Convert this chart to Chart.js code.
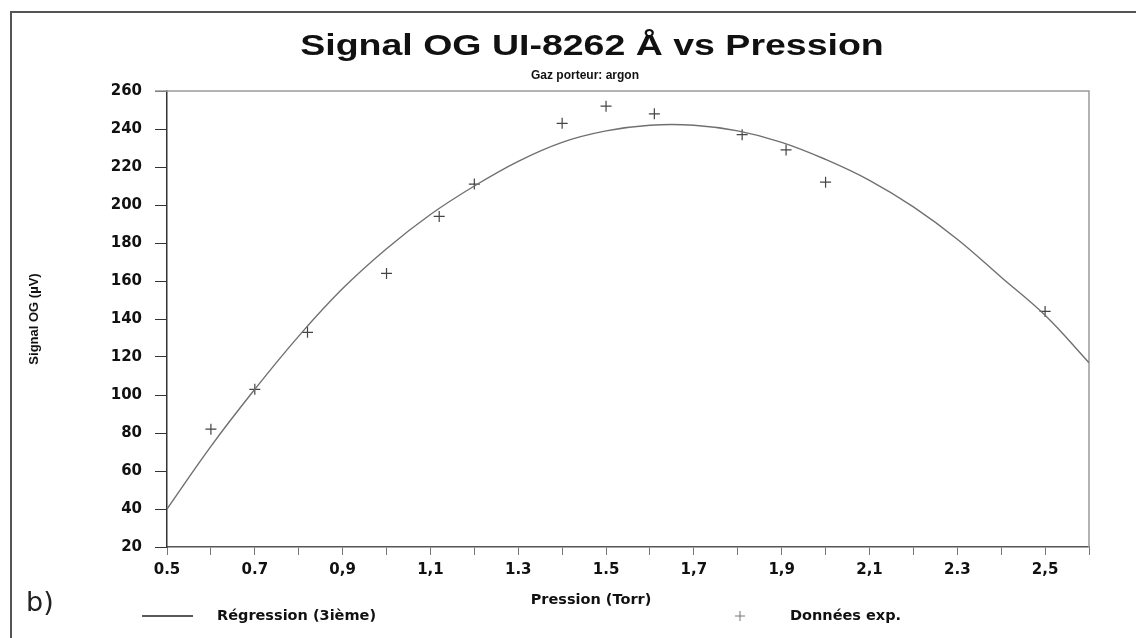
<!DOCTYPE html>
<html>
<head>
<meta charset="utf-8">
<title>Signal OG vs Pression</title>
<script src="https://cdn.jsdelivr.net/npm/chart.js@4.4.1/dist/chart.umd.min.js"></script>
<style>
  html, body { margin: 0; padding: 0; background: #fff; }
  #wrap { position: relative; width: 1136px; height: 638px; overflow: hidden; }
  #frame { position: absolute; left: 10px; top: 11px; width: 1200px; height: 700px;
           border-left: 2px solid #555; border-top: 2px solid #555; }
  canvas { position: absolute; left: 0; top: 0; }
</style>
</head>
<body>
<div id="wrap">
  <div id="frame"></div>
  <canvas id="ogChart" width="1136" height="638"></canvas>
</div>
<script>
// courbe de régression (3e ordre), lue tous les 0.1 Torr
const pressionFit = [0.5, 0.6, 0.7, 0.8, 0.9, 1.0, 1.1, 1.2, 1.3, 1.4, 1.5,
                     1.6, 1.7, 1.8, 1.9, 2.0, 2.1, 2.2, 2.3, 2.4, 2.5, 2.6];
const signalFit = [40, 73, 103, 131, 156, 177, 195, 210, 223, 233, 239,
                   242, 242, 239, 233, 224, 213, 199, 182, 162, 142, 117];

// points expérimentaux
const pressionExp = [0.6, 0.7, 0.82, 1.0, 1.12, 1.2, 1.4, 1.5, 1.61, 1.81, 1.91, 2.0, 2.5];
const signalExp = [82, 103, 133, 164, 194, 211, 243, 252, 248, 237, 229, 212, 144];

const xTickLabels = ['0.5', '0.7', '0,9', '1,1', '1.3', '1.5', '1,7', '1,9', '2,1', '2.3', '2,5'];

const tickFont = { family: 'DejaVu Sans', weight: 'bold', size: 15 };

const textPlugin = {
    id: 'textPlugin',
    beforeDatasetsDraw(chart) {
        const { ctx, chartArea: a } = chart;
        ctx.save();
        ctx.strokeStyle = '#9a9a9a';
        ctx.lineWidth = 1.5;
        ctx.beginPath();
        ctx.moveTo(155, a.top);
        ctx.lineTo(a.right, a.top);
        ctx.lineTo(a.right, a.bottom);
        ctx.stroke();
        ctx.restore();
    },
    afterDraw(chart) {
        const ctx = chart.ctx;
        ctx.save();
        ctx.fillStyle = '#111';
        ctx.textBaseline = 'middle';

        // titre, un peu étiré en largeur
        ctx.save();
        ctx.translate(592, 47);
        ctx.scale(1.25, 1);
        ctx.font = 'bold 30px "Liberation Sans", Arial, sans-serif';
        ctx.textAlign = 'center';
        ctx.fillText('Signal OG UI-8262 Å vs Pression', 0, 0);
        ctx.restore();

        ctx.textAlign = 'center';
        ctx.font = 'bold 12px "Liberation Sans", Arial, sans-serif';
        ctx.fillText('Gaz porteur: argon', 585, 76);

        ctx.font = 'bold 14.5px "DejaVu Sans", sans-serif';
        ctx.fillText('Pression (Torr)', 591, 600);

        // légende
        ctx.textAlign = 'left';
        ctx.strokeStyle = '#222';
        ctx.lineWidth = 1.5;
        ctx.beginPath();
        ctx.moveTo(142, 616);
        ctx.lineTo(193, 616);
        ctx.stroke();
        ctx.fillText('Régression (3ième)', 217, 616);

        ctx.strokeStyle = '#777';
        ctx.lineWidth = 1;
        ctx.beginPath();
        ctx.moveTo(735, 616); ctx.lineTo(745, 616);
        ctx.moveTo(740, 611); ctx.lineTo(740, 621);
        ctx.stroke();
        ctx.fillText('Données exp.', 790, 616);

        ctx.font = '27px "DejaVu Sans", sans-serif';
        ctx.fillStyle = '#222';
        ctx.fillText('b)', 26, 604);
        ctx.restore();
    }
};

new Chart(document.getElementById('ogChart'), {
    type: 'scatter',
    data: {
        datasets: [
            {
                label: 'Régression (3ième)',
                data: pressionFit.map((p, i) => ({ x: p, y: signalFit[i] })),
                showLine: true,
                tension: 0.4,
                borderColor: '#707070',
                borderWidth: 1.4,
                pointRadius: 0
            },
            {
                label: 'Données exp.',
                data: pressionExp.map((p, i) => ({ x: p, y: signalExp[i] })),
                pointStyle: 'cross',
                pointRadius: 5.5,
                borderColor: '#444',
                borderWidth: 1.2
            }
        ]
    },
    options: {
        responsive: false,
        animation: false,
        layout: { padding: { left: 0, right: 47, top: 91, bottom: 0 } },
        plugins: {
            legend: { display: false },
            tooltip: { enabled: false }
        },
        scales: {
            x: {
                type: 'linear',
                min: 0.5,
                max: 2.6,
                afterFit: s => { s.height = 91; },
                border: { display: true, color: '#555', width: 1.5 },
                grid: { drawOnChartArea: false, tickLength: 8, color: '#777' },
                ticks: {
                    stepSize: 0.1,
                    autoSkip: false,
                    maxRotation: 0,
                    padding: 6,
                    color: '#111',
                    font: tickFont,
                    callback: (v, i) => (i % 2 === 0 ? xTickLabels[i / 2] : '')
                }
            },
            y: {
                min: 20,
                max: 260,
                afterFit: s => { s.width = 167; },
                border: { display: true, color: '#333', width: 1.5 },
                grid: { drawOnChartArea: false, tickLength: 12, color: '#333' },
                ticks: { stepSize: 20, padding: 13, color: '#111', font: tickFont },
                title: {
                    display: true,
                    text: 'Signal OG (µV)',
                    color: '#111',
                    font: { family: 'Liberation Sans', weight: 'bold', size: 13 },
                    padding: { top: 27, bottom: 0 }
                }
            }
        }
    },
    plugins: [textPlugin]
});
</script>
</body>
</html>
